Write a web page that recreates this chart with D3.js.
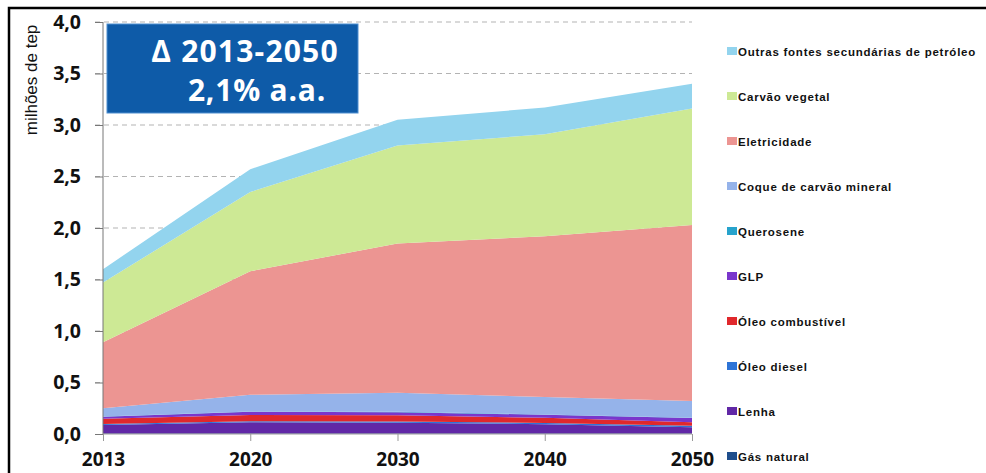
<!DOCTYPE html>
<html>
<head>
<meta charset="utf-8">
<script src="https://cdn.jsdelivr.net/npm/d3@7"></script>
<style>
  body { margin: 0; background: #fff; }
  text { font-family: "Liberation Sans", Arial, sans-serif; }
</style>
</head>
<body>
<script>
const years = ['2013', '2020', '2030', '2040', '2050']

// bottom to top
const gasNatural = [0.005, 0.005, 0.005, 0.005, 0.005]
const lenha = [0.082, 0.11, 0.105, 0.09, 0.06]
const oleoDiesel = [0.01, 0.01, 0.012, 0.012, 0.015]
const oleoCombustivel = [0.05, 0.06, 0.06, 0.05, 0.035]
const glp = [0.02, 0.03, 0.03, 0.03, 0.04]
const querosene = [0.003, 0.003, 0.003, 0.003, 0.003]
const coque = [0.08, 0.162, 0.185, 0.17, 0.162]
const eletricidade = [0.64, 1.2, 1.45, 1.56, 1.71]
const carvaoVegetal = [0.58, 0.77, 0.95, 0.99, 1.13]
const outras = [0.13, 0.22, 0.25, 0.26, 0.24]

const yTicks = [0, 0.5, 1, 1.5, 2, 2.5, 3, 3.5, 4]

const series = [
  { key: 'Gás natural', values: gasNatural, color: '#1f4e8c' },
  { key: 'Lenha', values: lenha, color: '#6128a6' },
  { key: 'Óleo diesel', values: oleoDiesel, color: '#2e74d6' },
  { key: 'Óleo combustível', values: oleoCombustivel, color: '#e0282c' },
  { key: 'GLP', values: glp, color: '#7a36cc' },
  { key: 'Querosene', values: querosene, color: '#27a3cc' },
  { key: 'Coque de carvão mineral', values: coque, color: '#95b3ea' },
  { key: 'Eletricidade', values: eletricidade, color: '#ec9592' },
  { key: 'Carvão vegetal', values: carvaoVegetal, color: '#cde995' },
  { key: 'Outras fontes secundárias de petróleo', values: outras, color: '#93d4ee' }
]

const table = years.map((y, i) => {
  const row = { year: y }
  series.forEach(s => row[s.key] = s.values[i])
  return row
})

const w = 986, h = 473
const mLeft = 103, mRight = 692, mTop = 22, mBottom = 434

const svg = d3.select('body').append('svg')
    .attr('width', w)
    .attr('height', h)

// outer frame
svg.append('path')
    .attr('d', `M9,${h} L9,8 L${w},8`)
    .attr('fill', 'none')
    .attr('stroke', '#000')
    .attr('stroke-width', 2.5)

const x = d3.scalePoint()
    .domain(years)
    .range([mLeft, mRight])

const y = d3.scaleLinear()
    .domain([0, 4])
    .range([mBottom, mTop])

// grid
svg.append('g')
    .selectAll('line')
    .data(yTicks.filter(d => d > 0))
    .enter()
    .append('line')
    .attr('x1', mLeft - 8)
    .attr('x2', mRight)
    .attr('y1', d => y(d))
    .attr('y2', d => y(d))
    .attr('stroke', '#b3b3b3')
    .attr('stroke-dasharray', '5,4')

const stack = d3.stack().keys(series.map(s => s.key))
const layers = stack(table)

const area = d3.area()
    .x(d => x(d.data.year))
    .y0(d => y(d[0]))
    .y1(d => y(d[1]))

svg.append('g')
    .selectAll('path')
    .data(layers)
    .enter()
    .append('path')
    .attr('d', area)
    .attr('fill', (d, i) => series[i].color)

// axes
const yAxis = d3.axisLeft(y)
    .tickValues(yTicks)
    .tickFormat(d => d3.format('.1f')(d).replace('.', ','))
    .tickSize(8)
    .tickPadding(14)

const gy = svg.append('g')
    .attr('transform', `translate(${mLeft},0)`)
    .call(yAxis)
gy.select('.domain').attr('stroke', '#777').attr('d', `M0,${mTop}V${mBottom}`)
gy.selectAll('.tick line').attr('stroke', '#777')
gy.selectAll('.tick text')
    .attr('font-size', 19.5)
    .attr('font-weight', 'bold')
    .attr('fill', '#111')
    .style('font-family', '"Open Sans", sans-serif')

const xAxis = d3.axisBottom(x)
    .tickSize(7)
    .tickPadding(12)

const gx = svg.append('g')
    .attr('transform', `translate(0,${mBottom})`)
    .call(xAxis)
gx.select('.domain').attr('stroke', '#999').attr('d', `M${mLeft},0H${mRight}`)
gx.selectAll('.tick line').attr('stroke', '#999')
gx.selectAll('.tick text')
    .attr('font-size', 19)
    .attr('font-weight', 'bold')
    .attr('fill', '#111')
    .style('font-family', '"Open Sans", sans-serif')

svg.append('text')
    .attr('transform', 'translate(37,80) rotate(-90)')
    .attr('text-anchor', 'middle')
    .attr('font-size', 17)
    .attr('fill', '#111')
    .text('milhões de tep')

// annotation box
const box = svg.append('g')
box.append('rect')
    .attr('x', 107)
    .attr('y', 24)
    .attr('width', 251)
    .attr('height', 89)
    .attr('fill', '#0e5ba8')
    .attr('stroke', '#4f8fd0')
    .attr('stroke-width', 1)
box.append('text')
    .attr('x', 245)
    .attr('y', 62)
    .attr('text-anchor', 'middle')
    .attr('font-size', 30)
    .attr('font-weight', 'bold')
    .attr('letter-spacing', 1.2)
    .attr('fill', '#fff')
    .style('font-family', '"Open Sans", sans-serif')
    .text('Δ 2013-2050')
box.append('text')
    .attr('x', 257)
    .attr('y', 101)
    .attr('text-anchor', 'middle')
    .attr('font-size', 30)
    .attr('font-weight', 'bold')
    .attr('letter-spacing', 0.8)
    .attr('fill', '#fff')
    .style('font-family', '"Open Sans", sans-serif')
    .text('2,1% a.a.')

// legend, top to bottom
const legendItems = series.slice().reverse()
const legend = svg.append('g')
    .selectAll('g')
    .data(legendItems)
    .enter()
    .append('g')
    .attr('transform', (d, i) => `translate(727,${52 + i * 45.0})`)

legend.append('rect')
    .attr('x', 0)
    .attr('y', -5)
    .attr('width', 10)
    .attr('height', 8)
    .attr('fill', d => d.color)

legend.append('text')
    .attr('x', 11)
    .attr('y', 3.5)
    .attr('font-size', 11.5)
    .attr('font-weight', 'bold')
    .attr('letter-spacing', 0.75)
    .attr('fill', '#111')
    .text(d => d.key)
</script>
</body>
</html>
